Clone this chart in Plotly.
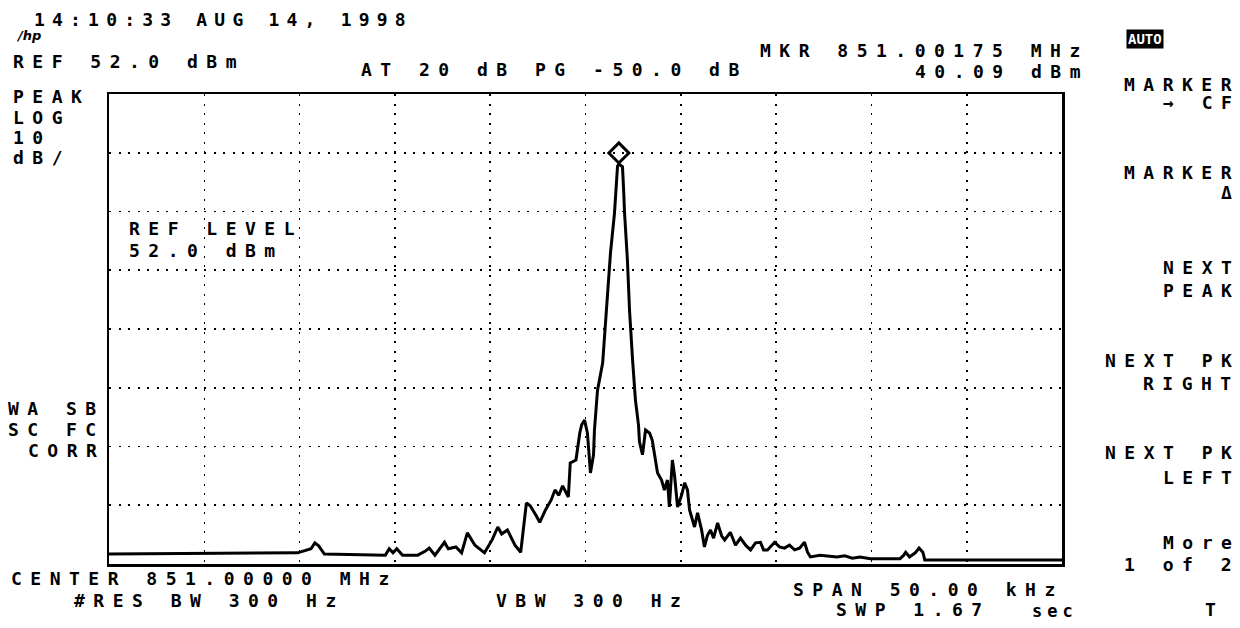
import plotly.graph_objects as go

# ---------------- data (read from the analyzer screen) ----------------
# frequency offset from CENTER 851.00000 MHz, in kHz (span 50 kHz)
freq_khz = [-25.0, -15.1, -14.4, -14.2, -14.0, -13.7, -10.5, -10.3, -10.1, -9.9,
            -9.6, -8.8, -8.4, -8.2, -7.9, -7.4, -7.2, -6.8, -6.5, -6.2,
            -5.8, -5.3, -4.9, -4.6, -4.4, -4.1, -3.7, -3.4, -3.1, -2.9,
            -2.6, -2.4, -2.1, -1.8, -1.6, -1.4, -1.2, -0.9, -0.8, -0.5,
            -0.3, -0.2, -0.05, 0.1, 0.26, 0.42, 0.47, 0.63, 0.9, 1.05,
            1.15, 1.31, 1.52, 1.63, 1.68, 1.75, 1.94, 2.0, 2.05, 2.2,
            2.31, 2.47, 2.62, 2.78, 2.83, 2.99, 3.15, 3.36, 3.5, 3.78,
            3.99, 4.14, 4.3, 4.4, 4.56, 4.67, 4.83, 5.04, 5.2, 5.35,
            5.46, 5.72, 5.88, 6.09, 6.24, 6.4, 6.56, 6.72, 6.93, 7.14,
            7.3, 7.6, 7.87, 8.13, 8.4, 8.66, 8.92, 9.18, 9.34, 9.55,
            9.76, 9.92, 10.18, 10.44, 10.7, 10.97, 11.23, 11.49, 11.65, 11.8,
            12.3, 12.7, 13.2, 13.6, 14.0, 14.4, 14.95, 16.5, 16.7, 16.8,
            17.0, 17.3, 17.5, 17.7, 17.8, 21.6, 25.0]
level_dbm = [-26.3, -26.1, -25.4, -24.4, -24.9, -26.3, -26.5, -25.4, -26.1, -25.4,
             -26.5, -26.5, -25.8, -25.3, -26.5, -24.3, -25.4, -25.1, -26.1, -22.7,
             -24.8, -26.1, -23.9, -21.7, -22.9, -22.2, -24.8, -26.0, -17.6, -18.1,
             -19.7, -20.9, -18.8, -17.1, -15.4, -16.3, -14.7, -16.6, -10.8, -10.3,
             -5.7, -4.3, -3.5, -5.7, -12.5, -9.4, -5.2, 1.6, 6.2, 13.0,
             19.1, 24.9, 31.7, 37.3, 39.7, 40.09, 39.6, 35.7, 31.7, 23.7,
             15.2, 6.7, -0.1, -4.3, -7.2, -9.4, -5.2, -5.7, -6.9, -12.5,
             -13.7, -15.4, -13.7, -18.3, -10.3, -12.9, -18.3, -16.3, -14.2, -15.4,
             -18.8, -21.7, -19.3, -22.2, -25.1, -23.1, -22.2, -23.6, -21.0, -23.2,
             -23.9, -22.6, -24.8, -23.6, -24.8, -25.6, -24.4, -24.3, -25.6, -25.6,
             -24.8, -24.3, -25.1, -25.3, -24.8, -25.6, -25.3, -24.3, -26.0, -26.8,
             -26.5, -26.6, -26.8, -26.6, -27.0, -26.8, -27.1, -27.1, -26.5, -26.0,
             -26.8, -26.1, -25.3, -26.0, -27.3, -27.3, -27.3]

ref_level = 52.0          # dBm, top of screen
db_per_div = 10
v_divs = 8
span_khz = 50.0
h_div_khz = 5
mkr_freq_khz = 1.75       # 851.00175 MHz
mkr_level = 40.09

top_texts = ["14:10:33 AUG 14, 1998", "REF 52.0 dBm", "AT 20 dB PG -50.0 dB",
             "MKR 851.00175 MHz", "40.09 dBm"]
left_texts = ["PEAK", "LOG", "10", "dB/", "WA SB", "SC FC", "CORR"]
ref_texts = ["REF LEVEL", "52.0 dBm"]
bottom_texts = ["CENTER 851.00000 MHz", "#RES BW 300 Hz", "VBW 300 Hz",
                "SPAN 50.00 kHz", "SWP 1.67 ", "sec"]
menu_texts = ["MARKER", "→ CF", "MARKER", "Δ", "NEXT", "PEAK", "NEXT PK", "RIGHT",
              "NEXT PK", "LEFT", "More", "1 of 2"]

# ---------------- layout helpers ----------------
W, H = 1240, 628
ML, MR, MT, MB = 109, 178, 94, 64
PW, PH = W - ML - MR, H - MT - MB
FONT = "DejaVu Sans Mono"


def px(x):
    return (x - ML) / PW


def py(y):
    return 1 - (y - MT) / PH


annotations = []


def txt(t, x, y, anchor="left", size=18, ls=8.5, color="black", **kw):
    annotations.append(dict(
        text=f"<b><span style='letter-spacing:{ls}px'>{t}</span></b>",
        xref="paper", yref="paper", x=px(x), y=py(y),
        xanchor=anchor, yanchor="middle", showarrow=False,
        font=dict(family=FONT, size=size, color=color), borderpad=0, **kw))


# top lines
txt(top_texts[0], 33, 19, ls=7.2)
annotations.append(dict(text="<b><i>/hp</i></b>", xref="paper", yref="paper", x=px(14), y=py(36),
                        xanchor="left", yanchor="middle", showarrow=False,
                        font=dict(family="DejaVu Sans", size=13, color="black")))
txt(top_texts[1], 12, 62)
txt(top_texts[2], 360, 69)
txt(top_texts[3], 1090, 51, anchor="right")
txt(top_texts[4], 1090, 71, anchor="right")

# AUTO highlighted box
annotations.append(dict(text="<b>AUTO</b>", xref="paper", yref="paper", x=px(1145), y=py(39),
                        xanchor="center", yanchor="middle", showarrow=False,
                        font=dict(family=FONT, size=14, color="white"),
                        bgcolor="black", borderpad=1))

# left column
for t, y in zip(left_texts[:4], [97, 118, 137, 157]):
    txt(t, 12, y)
for t, y in zip(left_texts[4:], [408, 429, 450]):
    txt(t, 106, y, anchor="right")

# ref level inside the graticule
txt(ref_texts[0], 128, 228)
txt(ref_texts[1], 128, 250)

# bottom lines
txt(bottom_texts[0], 10, 578)
txt(bottom_texts[1], 73, 600)
txt(bottom_texts[2], 495, 600)
txt(bottom_texts[3], 1065, 589, anchor="right")
txt(bottom_texts[4], 835, 609)
txt(bottom_texts[5], 1079, 611, anchor="right", size=17, ls=5)

# right soft-key menu
menu_y = [84, 103, 172, 192, 267, 290, 360, 383, 452, 477, 542, 564]
for t, y in zip(menu_texts, menu_y):
    txt(t, 1241, y, anchor="right")
txt("T", 1210, 609, anchor="center", ls=0)

# ---------------- figure ----------------
fig = go.Figure()
fig.add_trace(go.Scatter(x=freq_khz, y=level_dbm, mode="lines",
                         line=dict(color="black", width=3), hoverinfo="skip",
                         showlegend=False))

# marker diamond sitting on the peak
fig.add_shape(type="path", xref="x", yref="y",
              xsizemode="pixel", ysizemode="pixel",
              xanchor=mkr_freq_khz, yanchor=mkr_level,
              path="M -10 11 L 0 21 L 10 11 L 0 1 Z",
              line=dict(color="black", width=3), fillcolor="rgba(0,0,0,0)")

axis_common = dict(showgrid=True, gridcolor="black", gridwidth=1.6, griddash="2px,7.5px",
                   showticklabels=False, ticks="", zeroline=False,
                   showline=True, linecolor="black", linewidth=2.5, mirror=True,
                   fixedrange=True)
fig.update_xaxes(range=[-span_khz / 2, span_khz / 2], dtick=h_div_khz, tick0=0, **axis_common)
fig.update_yaxes(range=[ref_level - v_divs * db_per_div, ref_level], dtick=db_per_div,
                 tick0=ref_level, **axis_common)

fig.update_layout(width=W, height=H, margin=dict(l=ML, r=MR, t=MT, b=MB),
                  paper_bgcolor="white", plot_bgcolor="white",
                  annotations=annotations, showlegend=False, hovermode=False,
                  font=dict(family=FONT, color="black"))

fig.write_html("out.html", config={"displayModeBar": False, "staticPlot": True},
               post_script="document.body.style.margin='0px';"
                           "document.body.style.overflow='hidden';")
